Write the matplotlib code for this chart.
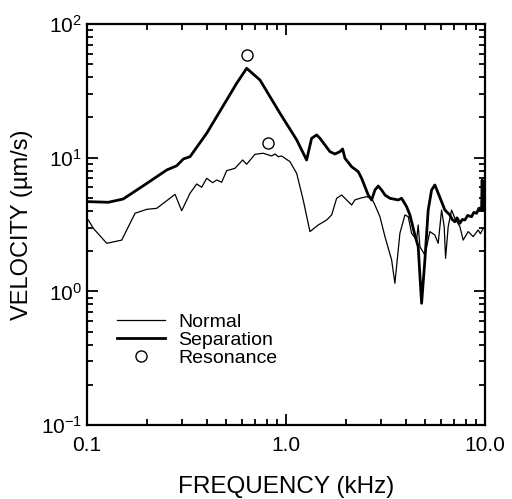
import matplotlib
matplotlib.use("Agg")
import matplotlib.pyplot as plt
from matplotlib.ticker import LogLocator, FixedLocator, FixedFormatter, NullFormatter

plt.rcParams['font.family'] = ['Liberation Sans', 'DejaVu Sans']
plt.rcParams['mathtext.default'] = 'regular'

# separation curve (kHz, um/s)
sep_freq = [0.1015, 0.128, 0.152, 0.20, 0.2515, 0.2825, 0.305, 0.3294, 0.3995, 0.5035,
            0.5653, 0.6346, 0.7403, 0.933, 1.132, 1.27, 1.346, 1.427, 1.482, 1.664,
            1.763, 1.868, 1.927, 1.98, 2.139, 2.309, 2.401, 2.495, 2.592, 2.696,
            2.801, 2.91, 3.027, 3.145, 3.332, 3.667, 3.814, 4.043, 4.2, 4.449,
            4.622, 4.808, 4.995, 5.189, 5.397, 5.607, 5.826, 6.059, 6.295, 6.67,
            6.85, 7.067, 7.25, 7.489, 7.7, 7.934, 8.2, 8.574, 8.8, 9.085,
            9.35, 9.625, 9.692, 9.75, 9.85]
sep_vel = [4.69, 4.64, 4.91, 6.43, 8.09, 8.71, 9.78, 10.17, 15.22, 27.0,
           36.0, 46.6, 38.1, 21.5, 13.6, 9.61, 13.97, 14.8, 13.97, 11.09,
           10.66, 11.09, 11.62, 9.9, 8.56, 7.86, 7.01, 6.07, 5.26, 4.83,
           5.73, 6.14, 5.73, 5.26, 4.97, 4.83, 4.97, 4.3, 3.73, 2.64,
           2.16, 0.815, 1.72, 4.06, 5.73, 6.25, 5.42, 4.69, 4.06, 3.73,
           3.45, 3.32, 3.55, 3.23, 3.45, 3.42, 3.7, 3.62, 3.9, 3.84,
           4.2, 4.06, 6.81, 4.3, 4.06]

# normal curve
nor_freq = [0.1015, 0.1076, 0.1256, 0.1494, 0.1743, 0.1995, 0.2241, 0.2769, 0.2991, 0.3294,
            0.3559, 0.3771, 0.3995, 0.4282, 0.4485, 0.4752, 0.5035, 0.5543, 0.6059, 0.6346,
            0.6986, 0.769, 0.8474, 0.8807, 0.9147, 0.9515, 1.047, 1.132, 1.221, 1.32,
            1.453, 1.602, 1.697, 1.798, 1.905, 2.018, 2.139, 2.222, 2.354, 2.544,
            2.696, 2.801, 2.968, 3.145, 3.398, 3.529, 3.74, 3.963, 4.119, 4.283,
            4.538, 4.622, 4.714, 4.995, 5.291, 5.607, 5.826, 6.059, 6.245, 6.346,
            6.54, 6.801, 7.067, 7.489, 7.779, 8.243, 8.735, 9.253, 9.5, 9.806]
nor_vel = [3.42, 2.96, 2.29, 2.42, 3.84, 4.11, 4.18, 5.32, 4.01, 5.42,
           6.36, 6.01, 7.01, 6.5, 6.81, 6.55, 8.0, 8.33, 9.61, 8.93,
           10.6, 10.79, 10.3, 10.66, 10.17, 10.3, 9.34, 7.64, 4.83, 2.8,
           3.14, 3.42, 3.73, 4.97, 5.26, 4.83, 4.43, 4.83, 4.97, 5.11,
           4.97, 4.43, 3.62, 2.57, 1.72, 1.15, 2.72, 3.73, 3.62, 2.72,
           2.42, 3.14, 2.16, 1.87, 2.8, 2.64, 2.29, 4.06, 3.05, 1.77,
           3.05, 4.06, 3.52, 3.05, 2.42, 2.8, 2.57, 2.88, 2.7, 2.96]

# resonance points
res_freq = [0.64, 0.815]
res_vel = [58.6, 12.9]

fig = plt.figure(figsize=(5.12, 4.99), dpi=100)
ax = fig.add_axes([0.170, 0.148, 0.777, 0.804])

ax.plot(nor_freq, nor_vel, color='black', lw=0.9, label='Normal')
ax.plot(sep_freq, sep_vel, color='black', lw=2.0, label='Separation')
ax.plot(res_freq, res_vel, 'o', mfc='white', mec='black', mew=1.0, ms=8, label='Resonance')

ax.set_xscale('log')
ax.set_yscale('log')
ax.set_xlim(0.1, 10)
ax.set_ylim(0.1, 100)

ax.xaxis.set_major_locator(FixedLocator([0.1, 1.0, 10.0]))
ax.xaxis.set_major_formatter(FixedFormatter(['0.1', '1.0', '10.0']))
ax.xaxis.set_minor_locator(LogLocator(base=10, subs=range(2, 10)))
ax.xaxis.set_minor_formatter(NullFormatter())
ax.yaxis.set_minor_locator(LogLocator(base=10, subs=range(2, 10)))
ax.yaxis.set_minor_formatter(NullFormatter())

ax.tick_params(which='both', direction='in', top=True, right=True, width=1.3, labelsize=15)
ax.tick_params(which='major', length=8)
ax.tick_params(which='minor', length=4)
ax.tick_params(axis='x', pad=8)
for s in ax.spines.values():
    s.set_linewidth(1.6)

ax.set_xlabel('FREQUENCY (kHz)', fontsize=17.5, labelpad=15)
ax.set_ylabel('VELOCITY (µm/s)', fontsize=17, labelpad=6)

ax.legend(loc='lower left', bbox_to_anchor=(0.05, 0.12), frameon=False, fontsize=14,
          handlelength=2.5, handletextpad=0.65, labelspacing=0.02, borderpad=0)

fig.savefig('out.png', dpi=100)
